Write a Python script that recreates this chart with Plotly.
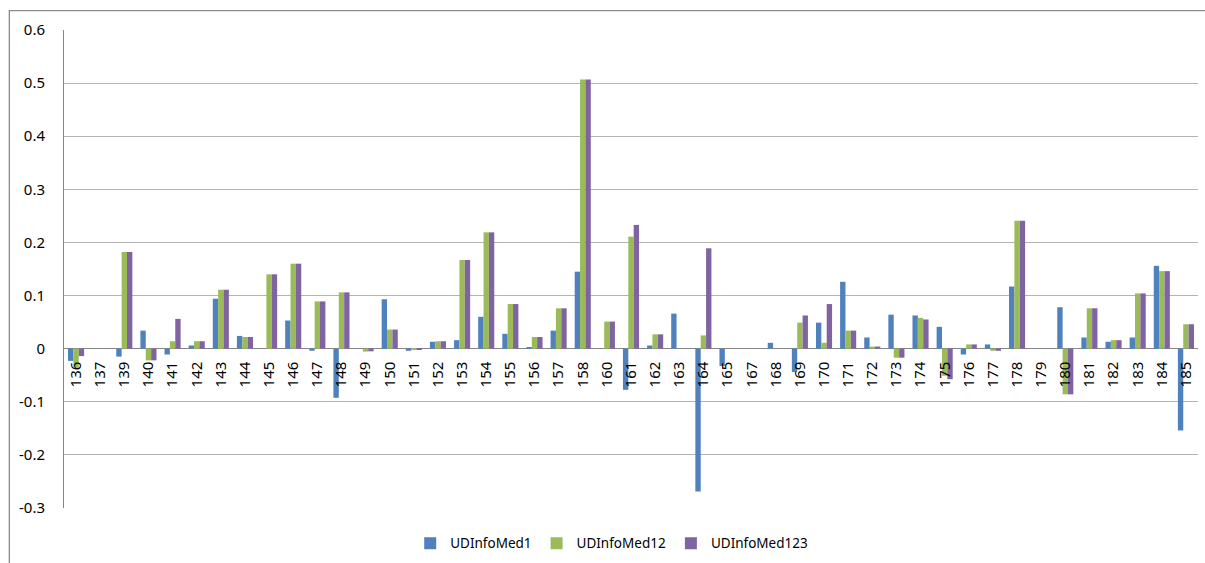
import plotly.graph_objects as go

categories = ["136", "137", "139", "140", "141", "142", "143", "144", "145", "146", "147", "148",
              "149", "150", "151", "152", "153", "154", "155", "156", "157", "158", "160", "161",
              "162", "163", "164", "165", "167", "168", "169", "170", "171", "172", "173", "174",
              "175", "176", "177", "178", "179", "180", "181", "182", "183", "184", "185"]

med1 = [-0.023, 0, -0.015, 0.034, -0.011, 0.006, 0.094, 0.024, 0, 0.053, -0.004, -0.0925,
        0, 0.093, -0.004, 0.013, 0.016, 0.060, 0.028, 0.002, 0.034, 0.145, 0, -0.0775,
        0.006, 0.066, -0.269, -0.0325, 0, 0.011, -0.044, 0.049, 0.126, 0.021, 0.064, 0.0625,
        0.041, -0.011, 0.008, 0.117, 0, 0.078, 0.021, 0.013, 0.021, 0.156, -0.154]

med12 = [-0.036, 0, 0.182, -0.022, 0.014, 0.014, 0.111, 0.022, 0.140, 0.160, 0.089, 0.106,
         -0.0055, 0.036, -0.002, 0.014, 0.167, 0.219, 0.084, 0.022, 0.076, 0.507, 0.051, 0.211,
         0.027, 0, 0.025, 0, 0, 0, 0.049, 0.011, 0.034, 0.004, -0.017, 0.058,
         -0.051, 0.008, -0.004, 0.241, 0, -0.086, 0.076, 0.016, 0.104, 0.146, 0.046]

med123 = [-0.014, 0, 0.182, -0.022, 0.056, 0.014, 0.111, 0.022, 0.140, 0.160, 0.089, 0.106,
          -0.005, 0.036, -0.002, 0.014, 0.167, 0.219, 0.084, 0.022, 0.076, 0.507, 0.051, 0.233,
          0.027, 0, 0.189, 0, 0, 0, 0.0625, 0.084, 0.034, 0.004, -0.017, 0.055,
          -0.0575, 0.008, -0.004, 0.241, 0, -0.086, 0.076, 0.016, 0.104, 0.146, 0.046]

y_ticks = [-0.3, -0.2, -0.1, 0, 0.1, 0.2, 0.3, 0.4, 0.5, 0.6]
y_tick_text = ["-0.3", "-0.2", "-0.1", "0", "0.1", "0.2", "0.3", "0.4", "0.5", "0.6"]

series = [("UDInfoMed1", med1, "#4F81BD"),
          ("UDInfoMed12", med12, "#9BBB59"),
          ("UDInfoMed123", med123, "#8064A2")]

FONT = "Noto Sans, DejaVu Sans, sans-serif"

fig = go.Figure()
for name, vals, color in series:
    fig.add_trace(go.Bar(x=categories, y=vals, name=name,
                         marker=dict(color=color, line=dict(width=0))))

y_min, y_max = -0.3, 0.6
zero_pos = (0 - y_min) / (y_max - y_min)

fig.update_layout(
    width=1205, height=563,
    margin=dict(l=64, r=7, t=30, b=55, autoexpand=False),
    paper_bgcolor="white", plot_bgcolor="white",
    barmode="group", bargap=0.333, bargroupgap=0,
    font=dict(family=FONT, size=13, color="#000000"),
    showlegend=True,
    legend=dict(orientation="h", x=0.483, xanchor="center", y=-0.074, yanchor="middle",
                font=dict(family=FONT, size=13.5, color="#000000"),
                itemwidth=30, traceorder="normal"),
    xaxis=dict(type="category", anchor="free", position=zero_pos,
               tickangle=-90, showgrid=False, showline=False, ticks="",
               tickfont=dict(family=FONT, size=15, color="#000000"),
               ticklabelstandoff=9, automargin=False),
    yaxis=dict(range=[y_min, y_max], tickvals=y_ticks, ticktext=y_tick_text,
               showgrid=True, gridcolor="#B3B3B3", gridwidth=1,
               zeroline=True, zerolinecolor="#868686", zerolinewidth=1,
               showline=True, linecolor="#868686", linewidth=1, ticks="",
               ticklabelstandoff=15, automargin=False,
               tickfont=dict(family=FONT, size=15, color="#000000")),
)

fig.add_shape(type="rect", xref="paper", yref="paper",
              x0=-0.0482, x1=1.02, y0=-0.3, y1=1.0404,
              line=dict(color="#8C8C8C", width=1.3), fillcolor="rgba(0,0,0,0)", layer="below")

fig.write_html("out.html",
               config={"displayModeBar": False},
               post_script="document.body.style.margin='0';document.body.style.padding='0';")
